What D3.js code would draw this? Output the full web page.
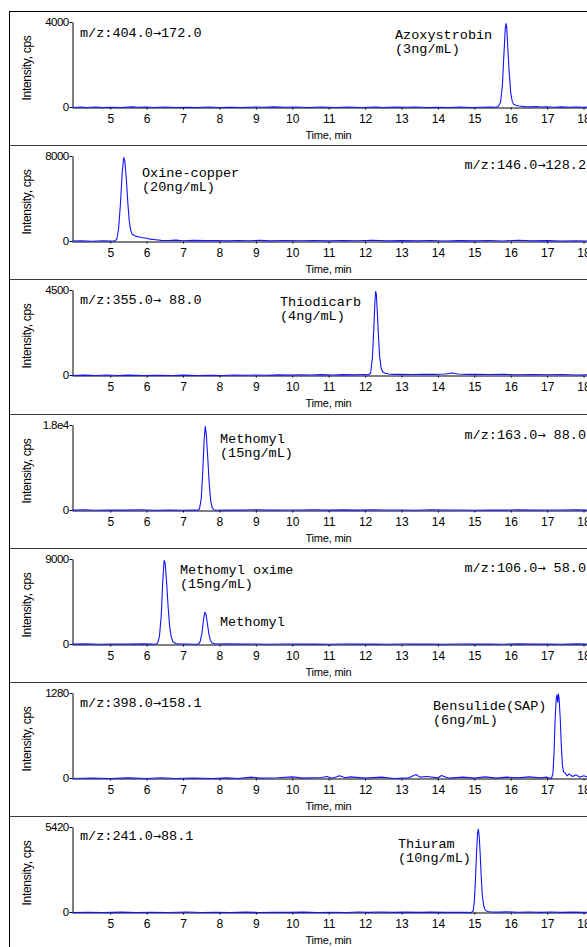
<!DOCTYPE html>
<html>
<head>
<meta charset="utf-8">
<script src="https://cdn.jsdelivr.net/npm/d3@7"></script>
<style>
  body { margin: 0; background: #fff; }
  svg { display: block; }
</style>
</head>
<body>
<div id="chart"></div>
<script>
// one entry per panel, top to bottom
const transitions = ['m/z:404.0→172.0', 'm/z:146.0→128.2', 'm/z:355.0→ 88.0', 'm/z:163.0→ 88.0', 'm/z:106.0→ 58.0', 'm/z:398.0→158.1', 'm/z:241.0→88.1'];
const compounds = ['Azoxystrobin', 'Oxine-copper', 'Thiodicarb', 'Methomyl', 'Methomyl oxime', 'Bensulide(SAP)', 'Thiuram'];
const concentrations = ['(3ng/mL)', '(20ng/mL)', '(4ng/mL)', '(15ng/mL)', '(15ng/mL)', '(6ng/mL)', '(10ng/mL)'];
const extraLabels = [null, null, null, null, 'Methomyl', null, null];
const yMaxValues = [4000, 8000, 4500, 18000, 9000, 1280, 5420];
const yMaxLabels = ['4000', '8000', '4500', '1.8e4', '9000', '1280', '5420'];
const timeTicks = [5, 6, 7, 8, 9, 10, 11, 12, 13, 14, 15, 16, 17, 18];

// [time (min), intensity (cps)]
const traceAzoxystrobin = [[3.96,0],[4.2,25],[4.35,0],[4.6,20],[4.8,0],[5.0,15],[5.3,0],[5.6,30],[5.75,10],[6.0,25],[6.2,0],[6.5,20],[6.8,0],[7.1,15],[7.4,0],[7.7,20],[8.0,0],[8.3,15],[8.6,0],[9.0,25],[9.2,10],[9.5,30],[9.8,15],[10.1,25],[10.4,0],[10.8,20],[11.2,0],[11.5,25],[11.9,0],[12.3,20],[12.5,0],[12.8,25],[13.1,10],[13.4,20],[13.7,0],[14.0,15],[14.3,0],[14.6,20],[14.9,0],[15.2,15],[15.45,20],[15.6,10],[15.66,60],[15.72,250],[15.77,1000],[15.81,2400],[15.85,3700],[15.87,3950],[15.89,3800],[15.92,2800],[15.96,1600],[16.0,700],[16.04,300],[16.08,150],[16.14,110],[16.2,80],[16.3,60],[16.4,40],[16.55,30],[16.7,45],[16.85,20],[17.0,35],[17.2,15],[17.4,30],[17.6,10],[17.8,25],[18.0,10],[18.15,20]];
const traceOxineCopper = [[3.96,40],[4.2,60],[4.5,30],[4.8,70],[5.0,40],[5.12,50],[5.18,200],[5.23,1200],[5.28,3500],[5.33,6500],[5.37,7900],[5.4,7600],[5.44,6000],[5.48,3800],[5.52,2000],[5.56,1100],[5.6,700],[5.66,560],[5.72,480],[5.8,420],[5.9,360],[6.0,300],[6.1,220],[6.25,160],[6.4,110],[6.6,90],[6.8,130],[7.0,70],[7.3,110],[7.6,80],[7.9,100],[8.2,60],[8.5,90],[8.8,70],[9.1,110],[9.4,60],[9.8,90],[10.2,70],[10.6,100],[11.0,60],[11.4,90],[11.8,70],[12.2,120],[12.6,60],[13.0,80],[13.4,60],[13.8,90],[14.2,50],[14.6,80],[15.0,60],[15.4,90],[15.8,50],[16.2,120],[16.6,60],[17.0,80],[17.4,50],[17.8,70],[18.15,50]];
const traceThiodicarb = [[3.96,0],[4.3,20],[4.6,0],[4.9,25],[5.2,0],[5.5,20],[5.9,0],[6.3,15],[6.7,0],[7.0,20],[7.4,0],[7.8,15],[8.1,0],[8.4,25],[8.7,10],[9.0,30],[9.3,15],[9.6,35],[9.9,20],[10.2,40],[10.5,25],[10.8,45],[11.1,30],[11.4,45],[11.7,35],[11.95,50],[12.1,40],[12.15,120],[12.2,900],[12.24,2500],[12.27,3900],[12.29,4450],[12.31,4300],[12.34,3200],[12.37,2000],[12.4,1000],[12.44,400],[12.48,200],[12.55,120],[12.65,80],[12.8,60],[13.0,70],[13.3,50],[13.6,70],[13.9,60],[14.2,80],[14.4,130],[14.55,80],[14.8,60],[15.1,70],[15.4,50],[15.8,60],[16.2,40],[16.6,50],[17.0,40],[17.4,50],[17.8,30],[18.15,40]];
const traceMethomyl = [[3.96,80],[4.3,150],[4.6,60],[5.0,120],[5.4,80],[5.8,150],[6.2,60],[6.6,100],[7.0,50],[7.3,90],[7.4,60],[7.45,300],[7.5,2500],[7.54,8000],[7.58,15000],[7.61,17800],[7.64,16000],[7.68,11000],[7.72,5500],[7.76,2000],[7.8,600],[7.84,150],[7.9,60],[8.2,120],[8.6,80],[9.0,150],[9.4,70],[9.8,120],[10.2,90],[10.6,150],[11.0,80],[11.4,130],[11.8,70],[12.2,140],[12.6,90],[13.0,120],[13.4,60],[13.8,150],[14.2,90],[14.6,120],[15.0,60],[15.4,110],[15.8,80],[16.2,140],[16.6,70],[17.0,120],[17.4,90],[17.8,130],[18.15,80]];
const traceMethomylOxime = [[3.96,40],[4.3,70],[4.7,30],[5.1,60],[5.5,40],[5.9,70],[6.1,40],[6.25,30],[6.3,150],[6.35,800],[6.4,3000],[6.44,6500],[6.48,8900],[6.51,8600],[6.55,6500],[6.59,4000],[6.63,2000],[6.67,900],[6.72,300],[6.8,100],[6.9,50],[7.1,60],[7.3,30],[7.42,40],[7.47,300],[7.52,1200],[7.56,2600],[7.6,3400],[7.63,3200],[7.67,2200],[7.71,1100],[7.75,450],[7.8,150],[7.88,50],[8.2,70],[8.6,40],[9.0,60],[9.4,30],[9.8,50],[10.2,40],[10.6,60],[11.0,30],[11.4,50],[11.8,40],[12.2,60],[12.6,30],[13.0,50],[13.4,40],[13.8,60],[14.2,30],[14.6,50],[15.0,40],[15.4,60],[15.8,30],[16.2,70],[16.6,40],[17.0,60],[17.4,30],[17.8,70],[18.15,40]];
const traceBensulide = [[3.96,0],[4.5,8],[5.0,0],[5.5,10],[6.0,0],[6.4,12],[6.8,0],[7.3,8],[7.8,0],[8.2,10],[8.5,0],[8.9,20],[9.1,5],[9.6,12],[10.0,25],[10.3,5],[10.8,15],[10.95,30],[11.1,5],[11.3,40],[11.45,10],[11.6,25],[12.0,5],[12.45,20],[12.8,0],[13.2,10],[13.4,60],[13.5,20],[13.7,30],[14.0,10],[14.1,45],[14.3,5],[14.7,20],[15.0,5],[15.3,25],[15.6,5],[15.9,20],[16.2,10],[16.5,25],[16.8,10],[17.0,20],[17.12,0],[17.16,80],[17.19,400],[17.22,900],[17.25,1200],[17.27,1260],[17.29,1150],[17.31,1270],[17.33,1200],[17.36,900],[17.39,500],[17.42,200],[17.45,100],[17.5,80],[17.55,40],[17.6,70],[17.7,30],[17.8,55],[17.9,20],[18.0,40],[18.15,15]];
const traceThiuram = [[3.96,0],[4.4,20],[4.8,0],[5.3,25],[5.7,0],[6.1,20],[6.6,0],[7.1,30],[7.5,0],[7.9,20],[8.3,0],[8.7,25],[9.1,0],[9.5,20],[9.9,5],[10.3,25],[10.7,0],[11.1,15],[11.5,0],[11.8,30],[12.1,10],[12.4,30],[12.8,10],[13.1,25],[13.5,10],[13.8,25],[14.2,5],[14.5,20],[14.8,10],[14.92,0],[14.97,100],[15.0,700],[15.03,2000],[15.06,3800],[15.09,5100],[15.11,5300],[15.13,5000],[15.16,3800],[15.19,2300],[15.22,1100],[15.26,400],[15.3,150],[15.36,60],[15.45,40],[15.7,25],[15.9,40],[16.2,20],[16.5,35],[16.8,10],[17.1,30],[17.4,10],[17.7,25],[18.0,10],[18.15,20]];

const traces = [traceAzoxystrobin, traceOxineCopper, traceThiodicarb, traceMethomyl, traceMethomylOxime, traceBensulide, traceThiuram];

// label placement per panel (pixels; y is offset from panel top)
const labelLayout = [
  { mz: [80, 26, 'start'], name: [395, 28], extra: null },
  { mz: [586, 24, 'end'], name: [142, 32], extra: null },
  { mz: [80, 25, 'start'], name: [280, 27], extra: null },
  { mz: [586, 25, 'end'], name: [220, 29], extra: null },
  { mz: [586, 24, 'end'], name: [180, 26], extra: [220, 78] },
  { mz: [80, 25, 'start'], name: [433, 28], extra: null },
  { mz: [80, 24, 'start'], name: [398, 32], extra: null }
];

const width = 587;
const height = 947;
const frame = { left: 9, top: 11 };
const panelHeight = 134.2;
const plot = { left: 72, right: 589, top: 11, bottom: 96 };
const monoFont = '"Liberation Mono", "DejaVu Sans Mono", monospace';
const arrowFont = '"DejaVu Sans Mono", monospace';
const sansFont = '"Liberation Sans", Arial, sans-serif';

const svg = d3
  .select('#chart')
  .append('svg')
  .attr('width', width)
  .attr('height', height);

svg
  .append('rect')
  .attr('x', frame.left + 0.5)
  .attr('y', frame.top + 0.5)
  .attr('width', width)
  .attr('height', height)
  .attr('fill', '#fff')
  .attr('stroke', '#000');

const x = d3.scaleLinear().domain([3.95, 18.15]).range([plot.left, plot.right]);

traces.forEach((trace, i) => {
  const top = Math.round(frame.top + i * panelHeight);

  if (i > 0) {
    svg
      .append('line')
      .attr('x1', frame.left)
      .attr('x2', width)
      .attr('y1', top + 0.5)
      .attr('y2', top + 0.5)
      .attr('stroke', '#3a3a3a')
      .attr('stroke-width', 1.2);
  }

  const g = svg.append('g').attr('transform', `translate(0,${top})`);

  const y = d3
    .scaleLinear()
    .domain([0, yMaxValues[i]])
    .range([plot.bottom, plot.top]);

  // x axis
  const xAxis = g
    .append('g')
    .attr('transform', `translate(0,${plot.bottom + 0.5})`)
    .call(d3.axisBottom(x).tickValues(timeTicks).tickSize(2).tickSizeOuter(0).tickPadding(5));
  xAxis.select('.domain').attr('stroke', '#000');
  xAxis.selectAll('.tick line').attr('stroke', '#000');
  xAxis
    .selectAll('.tick text')
    .attr('font-family', sansFont)
    .attr('font-size', 12)
    .attr('fill', '#000');

  // y axis, only zero and full scale
  const yAxis = g
    .append('g')
    .attr('transform', `translate(${plot.left + 0.5},0)`)
    .call(
      d3
        .axisLeft(y)
        .tickValues([0, yMaxValues[i]])
        .tickFormat((d, k) => (k === 0 ? '0' : yMaxLabels[i]))
        .tickSize(3)
        .tickSizeOuter(0)
        .tickPadding(1)
    );
  yAxis.select('.domain').attr('stroke', '#000');
  yAxis.selectAll('.tick line').attr('stroke', '#000');
  yAxis
    .selectAll('.tick text')
    .attr('font-family', sansFont)
    .attr('font-size', 11.5)
    .attr('letter-spacing', -0.6)
    .attr('fill', '#000');

  g.append('text')
    .attr('transform', `translate(31,57) rotate(-90)`)
    .attr('text-anchor', 'middle')
    .attr('font-family', sansFont)
    .attr('font-size', 12)
    .attr('letter-spacing', -0.3)
    .text('Intensity, cps');

  g.append('text')
    .attr('x', (plot.left + plot.right) / 2 - 2)
    .attr('y', 128)
    .attr('text-anchor', 'middle')
    .attr('font-family', sansFont)
    .attr('font-size', 11)
    .attr('letter-spacing', -0.2)
    .text('Time, min');

  // chromatogram trace
  const line = d3
    .line()
    .x(d => x(d[0]))
    .y(d => y(d[1]) + 0.5);

  g.append('path')
    .datum(trace)
    .attr('fill', 'none')
    .attr('stroke', '#1414ff')
    .attr('stroke-width', 1.1)
    .attr('stroke-linejoin', 'round')
    .attr('d', line);

  // annotations
  const layout = labelLayout[i];
  const mono = sel =>
    sel
      .attr('font-family', monoFont)
      .attr('font-size', 13.5)
      .attr('fill', '#000')
      .style('white-space', 'pre');

  // transition label: the arrow uses a font with a full-width arrow glyph
  const [before, after] = transitions[i].split('→');
  const mz = g
    .append('text')
    .attr('x', layout.mz[0])
    .attr('y', layout.mz[1])
    .attr('text-anchor', layout.mz[2])
    .call(mono);
  mz.append('tspan').text(before);
  mz.append('tspan').attr('font-family', arrowFont).attr('font-size', 13.4).text('→');
  mz.append('tspan').text(after);

  g.append('text')
    .attr('x', layout.name[0])
    .attr('y', layout.name[1])
    .call(mono)
    .text(compounds[i]);

  g.append('text')
    .attr('x', layout.name[0])
    .attr('y', layout.name[1] + 14)
    .call(mono)
    .text(concentrations[i]);

  if (layout.extra) {
    g.append('text')
      .attr('x', layout.extra[0])
      .attr('y', layout.extra[1])
      .call(mono)
      .text(extraLabels[i]);
  }
});
</script>
</body>
</html>
